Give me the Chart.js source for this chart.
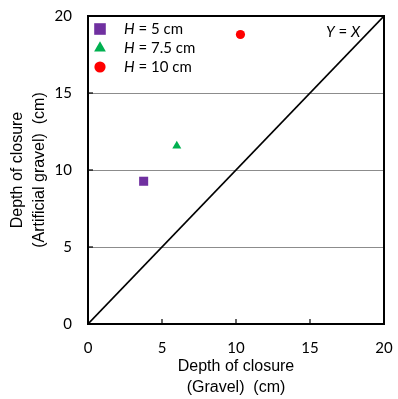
<!DOCTYPE html>
<html>
<head>
<meta charset="utf-8">
<script src="https://cdn.jsdelivr.net/npm/chart.js@4.4.1/dist/chart.umd.min.js"></script>
<style>
    html, body { margin: 0; padding: 0; background: #fff; }
    #wrap { width: 398px; height: 399px; }
</style>
</head>
<body>
<div id="wrap"><canvas id="chart" width="398" height="399"></canvas></div>
<script>
// --- Data ---
const seriesNames = ['5 cm', '7.5 cm', '10 cm'];
const gravelX = [3.76, 6.0, 10.3];
const artificialY = [9.27, 11.56, 18.8];
const seriesColors = ['#7030A0', '#00B050', '#FF0000'];
const seriesShapes = ['rect', 'triangle', 'circle'];
const lineX = [0, 20];
const lineY = [0, 20];
const tickValues = [0, 5, 10, 15, 20];

const FONT = 'Lato, "Open Sans", sans-serif';
const TITLE_FONT = '"Liberation Sans", Arial, sans-serif';

const pointSets = seriesNames.map((name, i) => ({
    label: name,
    type: 'scatter',
    data: [{ x: gravelX[i], y: artificialY[i] }],
    backgroundColor: seriesColors[i],
    borderColor: seriesColors[i],
    borderWidth: 0,
    pointStyle: seriesShapes[i],
    pointRadius: [6.4, 5.2, 4.6][i]
}));

const lineSet = {
    label: 'Y = X',
    type: 'line',
    data: lineX.map((x, i) => ({ x: x, y: lineY[i] })),
    borderColor: '#000',
    borderWidth: 1.6,
    pointRadius: 0,
    fill: false
};

// frame, inside ticks, legend and the Y = X label
const decorations = {
    id: 'decorations',
    afterDatasetsDraw(chart) {
        const ctx = chart.ctx;
        const a = chart.chartArea;
        const xs = chart.scales.x;
        const ys = chart.scales.y;
        ctx.save();

        // inside ticks
        ctx.strokeStyle = '#000';
        ctx.lineWidth = 1.2;
        tickValues.slice(1, -1).forEach(v => {
            const px = xs.getPixelForValue(v);
            ctx.beginPath();
            ctx.moveTo(px, a.bottom);
            ctx.lineTo(px, a.bottom - 5);
            ctx.stroke();
            const py = ys.getPixelForValue(v);
            ctx.beginPath();
            ctx.moveTo(a.left, py);
            ctx.lineTo(a.left + 5, py);
            ctx.stroke();
        });

        // frame
        ctx.lineWidth = 2;
        ctx.strokeRect(a.left, a.top, a.right - a.left, a.bottom - a.top);

        // legend
        const lx = a.left + 12;
        const rowY = [a.top + 13, a.top + 32, a.top + 51];
        const sizes = [8.3, 6.8, 5.6];
        seriesNames.forEach((name, i) => {
            ctx.fillStyle = seriesColors[i];
            ctx.beginPath();
            const cy = rowY[i];
            if (seriesShapes[i] === 'rect') {
                ctx.rect(lx - 5.8, cy - 5.8, 11.6, 11.6);
            } else if (seriesShapes[i] === 'triangle') {
                const r = sizes[i];
                ctx.moveTo(lx, cy - r);
                ctx.lineTo(lx + r * 0.866, cy + r * 0.5);
                ctx.lineTo(lx - r * 0.866, cy + r * 0.5);
                ctx.closePath();
            } else {
                ctx.arc(lx, cy, sizes[i], 0, Math.PI * 2);
            }
            ctx.fill();

            ctx.fillStyle = '#000';
            ctx.textBaseline = 'middle';
            ctx.textAlign = 'left';
            ctx.font = 'italic 15px ' + FONT;
            ctx.fillText('H', a.left + 36, cy);
            const hw = ctx.measureText('H').width;
            ctx.font = '15px ' + FONT;
            ctx.fillText(' = ' + name, a.left + 36 + hw, cy);
        });

        // Y = X label
        ctx.fillStyle = '#000';
        ctx.textBaseline = 'middle';
        ctx.textAlign = 'left';
        let tx = a.right - 58;
        const ty = a.top + 16;
        ctx.font = 'italic 15px ' + FONT;
        ctx.fillText('Y', tx, ty);
        tx += ctx.measureText('Y').width;
        ctx.font = '15px ' + FONT;
        ctx.fillText(' = ', tx, ty);
        tx += ctx.measureText(' = ').width;
        ctx.font = 'italic 15px ' + FONT;
        ctx.fillText('X', tx, ty);

        ctx.restore();
    }
};

new Chart(document.getElementById('chart'), {
    type: 'scatter',
    data: { datasets: [lineSet, ...pointSets] },
    options: {
        responsive: false,
        animation: false,
        layout: { padding: { left: 0, right: 14, top: 16, bottom: 0 } },
        plugins: {
            legend: { display: false },
            tooltip: { enabled: false }
        },
        scales: {
            x: {
                type: 'linear',
                min: 0,
                max: 20,
                afterFit: (s) => {
                    s.height = 75;
                    s.paddingLeft = 0;
                    s.paddingRight = 0;
                },
                afterBuildTicks: (s) => { s.ticks = tickValues.map(v => ({ value: v })); },
                grid: { display: false, drawTicks: false },
                border: { display: false },
                ticks: { color: '#000', font: { family: FONT, size: 15 }, padding: 15, maxRotation: 0 },
                title: {
                    display: true,
                    text: ['Depth of closure', '(Gravel)  (cm)'],
                    color: '#000',
                    font: { family: TITLE_FONT, size: 16, lineHeight: '21px' },
                    padding: { top: 0, bottom: 1 }
                }
            },
            y: {
                type: 'linear',
                min: 0,
                max: 20,
                afterFit: (s) => {
                    s.width = 88;
                    s.paddingTop = 0;
                    s.paddingBottom = 0;
                },
                afterBuildTicks: (s) => { s.ticks = tickValues.map(v => ({ value: v })); },
                grid: {
                    drawTicks: false,
                    color: (c) => (c.tick && (c.tick.value === 0 || c.tick.value === 20)) ? 'rgba(0,0,0,0)' : '#8c8c8c',
                    lineWidth: 1
                },
                border: { display: false },
                ticks: { color: '#000', font: { family: FONT, size: 15 }, padding: 16 },
                title: {
                    display: true,
                    text: ['Depth of closure', '(Artificial gravel)  (cm)'],
                    color: '#000',
                    font: { family: TITLE_FONT, size: 16, lineHeight: '22px' },
                    padding: { top: 7, bottom: 0 }
                }
            }
        }
    },
    plugins: [decorations]
});
</script>
</body>
</html>
